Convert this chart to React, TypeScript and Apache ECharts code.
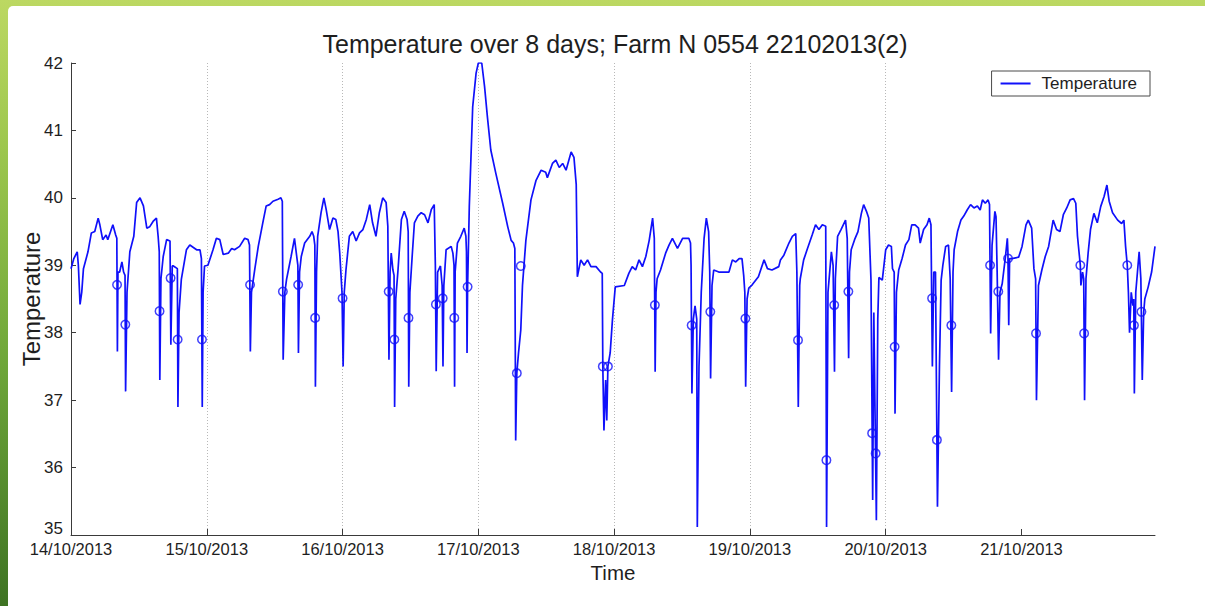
import React, { useEffect, useRef } from "react";
import * as echarts from "echarts";

// Readings as [hours since 14/10/2013 00:00, °C], one list per day.
const day14: [number, number][] = [
  [0, 38.95], [0.5, 39.1], [1.1, 39.2], [1.3, 39.0], [1.6, 38.42], [1.9, 38.6], [2.2, 38.95], [3.0, 39.2],
  [3.6, 39.48], [4.2, 39.5], [4.8, 39.7], [5.1, 39.6], [5.6, 39.38], [6.2, 39.45], [6.5, 39.38], [7.4, 39.6],
  [7.9, 39.45], [8.1, 39.4], [8.2, 37.72], [8.3, 38.9], [8.6, 38.9], [9.0, 39.05], [9.3, 38.9], [9.55, 38.85],
  [9.65, 37.13], [9.9, 38.6], [10.4, 39.2], [11.1, 39.43], [11.6, 39.93], [12.2, 40.0], [12.8, 39.88],
  [13.4, 39.55], [13.9, 39.57], [14.5, 39.65], [15.1, 39.7], [15.4, 39.43], [15.6, 39.2], [15.7, 37.3],
  [15.9, 38.8], [16.3, 39.13], [16.9, 39.38], [17.5, 39.36], [17.65, 37.82], [17.9, 38.99], [18.1, 38.99],
  [18.8, 38.95], [18.9, 36.9], [19.1, 38.3], [19.5, 38.79], [20.4, 39.23], [21.0, 39.3], [22.2, 39.23],
  [22.8, 39.23], [23.05, 39.1], [23.2, 36.9], [23.35, 38.6], [23.6, 38.99],
];
const day15: [number, number][] = [
  [24.2, 39.0], [25.1, 39.23], [25.7, 39.4], [26.3, 39.38], [26.9, 39.16], [27.8, 39.18], [28.4, 39.25],
  [28.9, 39.23], [29.8, 39.28], [30.7, 39.4], [31.3, 39.38], [31.55, 39.3], [31.7, 37.72], [31.9, 38.6],
  [32.5, 38.95], [33.1, 39.28], [33.9, 39.63], [34.5, 39.88], [35.1, 39.9], [35.7, 39.95], [36.6, 39.98],
  [37.1, 40.0], [37.35, 39.95], [37.5, 37.6], [37.8, 38.6], [38.1, 38.79], [38.9, 39.13], [39.5, 39.4],
  [39.9, 39.13], [40.1, 39.0], [40.2, 37.7], [40.4, 38.9], [40.7, 39.13], [41.3, 39.33], [42.2, 39.43],
  [42.6, 39.5], [42.9, 39.43], [43.1, 39.3], [43.2, 37.2], [43.4, 38.9], [43.6, 39.43], [44.2, 39.78],
  [44.7, 40.0], [45.1, 39.83], [45.7, 39.53], [46.3, 39.7], [46.8, 39.68], [47.2, 39.5], [47.5, 39.18],
  [47.9, 38.6], [48.1, 37.5], [48.3, 38.6],
];
const day16: [number, number][] = [
  [48.6, 38.93], [49.2, 39.43], [49.8, 39.5], [50.4, 39.36], [51.0, 39.48], [51.6, 39.53], [52.2, 39.68],
  [52.8, 39.9], [53.3, 39.63], [53.9, 39.43], [54.5, 39.78], [55.1, 40.0], [55.7, 39.93], [56.0, 39.58],
  [56.2, 37.6], [56.4, 38.9], [56.6, 39.18], [56.9, 38.93], [57.1, 38.85], [57.2, 36.9], [57.4, 38.5],
  [57.8, 38.93], [58.4, 39.68], [58.9, 39.8], [59.4, 39.68], [59.6, 39.5], [59.7, 37.2], [59.9, 38.6],
  [60.3, 39.13], [60.7, 39.63], [61.3, 39.73], [61.9, 39.78], [62.5, 39.75], [63.1, 39.63], [63.7, 39.83],
  [64.2, 39.9], [64.4, 39.0], [64.55, 37.43], [64.8, 38.9], [65.3, 38.99], [65.6, 38.7], [65.75, 37.5],
  [65.9, 38.7], [66.3, 39.23], [67.2, 39.28], [67.5, 39.18], [67.7, 39.0], [67.8, 37.2], [67.9, 38.9],
  [68.3, 39.33], [68.9, 39.43], [69.5, 39.55], [69.8, 39.43], [69.9, 39.2], [70.0, 37.7], [70.1, 38.68],
  [70.4, 39.87], [71.0, 41.35], [71.6, 41.85], [72.0, 42.0],
];
const day17: [number, number][] = [
  [72.6, 42.0], [73.1, 41.65], [73.6, 41.2], [74.2, 40.71], [75.1, 40.36], [76.3, 39.92], [77.2, 39.57],
  [77.8, 39.37], [78.2, 39.33], [78.45, 39.25], [78.6, 36.4], [78.8, 37.4], [79.1, 37.7], [79.5, 38.04],
  [79.8, 38.7], [80.4, 39.37], [81.3, 39.97], [82.2, 40.26], [83.1, 40.41], [83.9, 40.38], [84.2, 40.3],
  [85.1, 40.51], [85.7, 40.56], [86.3, 40.45], [86.9, 40.51], [87.5, 40.41], [88.4, 40.68], [88.9, 40.6],
  [89.3, 40.2], [89.5, 38.83], [90.1, 39.08], [90.7, 39.0], [91.3, 39.08], [91.9, 38.98], [92.8, 38.98],
  [93.6, 38.9], [93.9, 38.88], [94.0, 37.5], [94.2, 36.55], [94.5, 37.3], [94.7, 36.7], [94.9, 37.5],
  [95.3, 37.7], [95.7, 38.19],
];
const day18: [number, number][] = [
  [96.2, 38.68], [97.8, 38.7], [98.6, 38.88], [99.2, 38.98], [99.8, 38.93], [100.4, 39.08], [101.0, 38.98],
  [101.6, 39.13], [102.2, 39.37], [102.8, 39.7], [103.1, 39.4], [103.25, 37.42], [103.4, 38.6], [103.6, 38.8],
  [104.2, 38.93], [105.1, 39.18], [105.7, 39.3], [106.3, 39.4], [107.2, 39.25], [108.1, 39.4], [109.2, 39.4],
  [109.5, 39.33], [109.6, 39.0], [109.75, 37.1], [110.0, 38.2], [110.3, 38.4], [110.6, 38.2], [110.7, 35.12],
  [111.0, 37.5], [111.4, 38.6], [111.9, 39.4], [112.3, 39.7], [112.7, 39.5], [112.9, 38.9], [113.05, 37.32],
  [113.3, 38.7], [113.6, 38.93], [114.5, 38.9], [116.3, 38.9], [116.9, 39.08], [117.5, 39.05], [118.1, 39.1],
  [118.6, 39.1], [118.9, 38.85], [119.1, 38.6], [119.25, 37.2], [119.5, 38.5], [119.8, 38.66],
];
const day19: [number, number][] = [
  [120.4, 38.71], [121.5, 38.83], [122.5, 39.08], [123.1, 38.95], [123.9, 38.93], [125.1, 38.98],
  [125.4, 39.08], [126.0, 39.15], [126.9, 39.33], [127.5, 39.43], [128.1, 39.47], [128.3, 38.9],
  [128.55, 36.9], [128.8, 38.7], [128.9, 38.8], [129.5, 39.08], [130.1, 39.23], [131.0, 39.45],
  [131.6, 39.6], [132.2, 39.53], [132.8, 39.6], [133.4, 39.58], [133.55, 35.12], [133.8, 38.6],
  [134.4, 39.2], [134.7, 39.0], [134.95, 37.42], [135.1, 38.8], [135.5, 39.43], [136.1, 39.53],
  [136.9, 39.67], [137.2, 39.4], [137.45, 37.62], [137.6, 38.9], [137.9, 39.23], [138.5, 39.38],
  [139.1, 39.5], [139.7, 39.77], [140.1, 39.9], [140.6, 39.8], [141.0, 39.7], [141.4, 38.78],
  [141.7, 35.52], [141.9, 38.3], [142.35, 35.22], [142.6, 38.2], [142.8, 38.82], [143.4, 38.78],
  [144.0, 39.23],
];
const day20: [number, number][] = [
  [144.5, 39.3], [145.0, 39.28], [145.2, 38.95], [145.5, 38.9], [145.65, 36.8], [145.9, 38.6],
  [146.3, 38.93], [146.9, 39.1], [147.5, 39.3], [148.1, 39.38], [148.6, 39.6], [149.2, 39.6],
  [149.8, 39.55], [150.1, 39.33], [150.7, 39.53], [151.3, 39.6], [151.7, 39.7], [152.0, 39.6],
  [152.25, 37.5], [152.5, 38.9], [152.8, 38.9], [153.15, 35.42], [153.5, 37.5], [153.8, 38.78],
  [154.1, 39.0], [154.6, 39.28], [155.1, 39.3], [155.4, 38.8], [155.65, 37.12], [155.9, 38.9],
  [156.1, 39.23], [156.7, 39.5], [157.3, 39.67], [157.8, 39.73], [158.4, 39.82], [159.0, 39.9],
  [159.6, 39.85], [160.2, 39.88], [160.7, 39.82], [161.1, 39.97], [161.6, 39.92], [162.1, 39.97],
  [162.35, 39.9], [162.55, 37.99], [162.8, 39.3], [163.3, 39.8], [163.5, 39.72], [163.7, 38.9],
  [163.95, 37.6], [164.2, 38.6], [164.6, 38.73], [165.2, 39.15], [165.5, 39.4], [165.6, 39.2],
  [165.75, 38.11], [165.9, 39.1], [166.3, 39.1], [167.5, 39.12],
];
const day21: [number, number][] = [
  [168.1, 39.28], [168.8, 39.6], [169.2, 39.67], [169.8, 39.55], [170.2, 38.95], [170.5, 38.8],
  [170.65, 37.0], [171.0, 38.7], [171.6, 38.93], [172.2, 39.13], [172.8, 39.28], [173.6, 39.67],
  [174.2, 39.53], [174.8, 39.5], [175.4, 39.75], [176.0, 39.85], [176.6, 39.97], [177.2, 39.99],
  [177.6, 39.92], [177.9, 39.43], [178.4, 39.0], [178.5, 38.7], [178.8, 38.9], [179.0, 38.8],
  [179.15, 37.0], [179.4, 38.8], [179.8, 39.2], [180.2, 39.53], [180.8, 39.77], [181.4, 39.63],
  [182.0, 39.87], [182.6, 40.02], [183.1, 40.19], [183.5, 39.95], [184.1, 39.78], [185.0, 39.67],
  [185.7, 39.62], [186.1, 39.67], [186.4, 39.28], [186.7, 39.0], [186.9, 38.6], [187.1, 38.0],
  [187.4, 38.6], [187.7, 38.4], [187.85, 38.5], [187.95, 37.1], [188.2, 38.6], [188.5, 38.9],
  [188.8, 39.2], [189.1, 38.8], [189.35, 37.3], [189.6, 38.3], [189.8, 38.5], [190.4, 38.68],
  [191.0, 38.9], [191.6, 39.28],
];

// Flagged readings shown as open circles.
const flagged: [number, number][] = [
  [8.14, 38.71], [9.6, 38.12], [15.65, 38.32], [17.6, 38.81], [18.85, 37.9], [23.15, 37.9],
  [31.65, 38.71], [37.45, 38.61], [40.15, 38.71], [43.15, 38.22], [48.0, 38.51],
  [56.15, 38.61], [57.15, 37.9], [59.65, 38.22], [64.5, 38.42], [65.7, 38.51], [67.75, 38.22], [70.1, 38.68],
  [78.8, 37.4], [79.5, 38.99], [94.0, 37.5], [94.9, 37.5],
  [103.2, 38.41], [109.7, 38.11], [113.0, 38.31], [119.2, 38.21],
  [128.5, 37.89], [133.52, 36.11], [134.9, 38.41], [137.4, 38.61], [141.6, 36.51], [142.22, 36.21],
  [145.58, 37.79], [152.2, 38.51], [153.05, 36.41], [155.6, 38.11], [162.45, 39.0], [163.9, 38.61], [165.62, 39.1],
  [170.57, 37.99], [178.4, 39.0], [179.07, 37.99], [186.7, 39.0], [187.88, 38.11], [189.2, 38.31],
];

const dateLabels = [
  "14/10/2013", "15/10/2013", "16/10/2013", "17/10/2013",
  "18/10/2013", "19/10/2013", "20/10/2013", "21/10/2013",
];
const dayTicks = [0, 24, 48, 72, 96, 120, 144, 168];
const endHour = 191.6;

const titleText = "Temperature over 8 days; Farm N 0554 22102013(2)";
const FONT = "'Liberation Sans', Arial, Helvetica, sans-serif";
const INK = "#1e1e1e";
const BLUE = "#1010fa";

export default function App() {
  const ref = useRef<HTMLDivElement>(null);

  useEffect(() => {
    if (!ref.current) return;
    const chart = echarts.init(ref.current, undefined, { renderer: "svg" });
    const readings = [...day14, ...day15, ...day16, ...day17, ...day18, ...day19, ...day20, ...day21];

    chart.setOption({
      animation: false,
      backgroundColor: "transparent",
      textStyle: { fontFamily: FONT },
      title: {
        text: titleText,
        left: 610,
        top: 26,
        textAlign: "center",
        textStyle: { fontFamily: FONT, fontSize: 25, fontWeight: "normal", color: INK },
      },
      legend: {
        data: [{ name: "Temperature", icon: "rect" }],
        right: 55,
        top: 71,
        borderColor: "#4a4a4a",
        borderWidth: 1,
        borderRadius: 0,
        padding: [4, 13, 4, 9],
        itemWidth: 30,
        itemHeight: 2,
        itemGap: 8,
        textStyle: { fontFamily: FONT, fontSize: 17, color: INK, padding: [0, 0, 0, 6] },
      },
      grid: { left: 71, right: 50, top: 63, bottom: 71 },
      xAxis: {
        type: "value",
        min: 0,
        max: endHour,
        interval: 24,
        name: "Time",
        nameLocation: "middle",
        nameGap: 27,
        nameTextStyle: { fontFamily: FONT, fontSize: 20.5, color: INK },
        axisLine: { show: true, onZero: false, lineStyle: { color: "#3a3a3a", width: 1 } },
        axisTick: { show: true, inside: true, length: 6, customValues: dayTicks, lineStyle: { color: "#3a3a3a" } },
        axisLabel: {
          customValues: dayTicks,
          margin: 5,
          fontFamily: FONT,
          fontSize: 16.5,
          color: INK,
          formatter: (v: number) => dateLabels[Math.round(v / 24)] ?? "",
        },
        splitLine: {
          show: true,
          showMinLine: false,
          showMaxLine: false,
          lineStyle: { color: "#b8b8b8", type: [1, 2], width: 1 },
        },
      },
      yAxis: {
        type: "value",
        min: 35,
        max: 42,
        interval: 1,
        name: "Temperature",
        nameLocation: "middle",
        nameGap: 28,
        nameMoveOverlap: false,
        nameTextStyle: { fontFamily: FONT, fontSize: 24, color: INK },
        axisLine: { show: true, lineStyle: { color: "#3a3a3a", width: 1 } },
        axisTick: { show: true, inside: true, length: 5, lineStyle: { color: "#3a3a3a" } },
        axisLabel: {
          margin: 8,
          fontFamily: FONT,
          fontSize: 17,
          color: INK,
          formatter: (v: number) => (v === 35 ? "{low|35}" : String(v)),
          rich: { low: { fontFamily: FONT, fontSize: 17, color: INK, padding: [0, 0, 14, 0] } },
        },
        splitLine: { show: false },
      },
      series: [
        {
          name: "Temperature",
          type: "line",
          data: readings,
          symbol: "none",
          lineStyle: { color: BLUE, width: 1.7 },
          itemStyle: { color: BLUE },
          z: 2,
        },
        {
          name: "Flagged",
          type: "scatter",
          data: flagged,
          symbol: "circle",
          symbolSize: 8.5,
          itemStyle: { color: "transparent", borderColor: BLUE, borderWidth: 1.5 },
          z: 3,
        },
      ],
    });

    return () => chart.dispose();
  }, []);

  return (
    <div
      style={{
        position: "absolute",
        left: 0,
        top: 0,
        width: 1205,
        height: 606,
        overflow: "hidden",
        background: "linear-gradient(180deg, #bcd862 0%, #9cc64d 25%, #6ea639 60%, #3e7323 100%)",
      }}
    >
      <div
        style={{
          position: "absolute",
          left: 8,
          top: 6,
          right: 0,
          bottom: 0,
          background: "#ffffff",
          borderTopLeftRadius: 5,
        }}
      />
      <div ref={ref} style={{ position: "absolute", left: 0, top: 0, width: 1205, height: 606 }} />
    </div>
  );
}
